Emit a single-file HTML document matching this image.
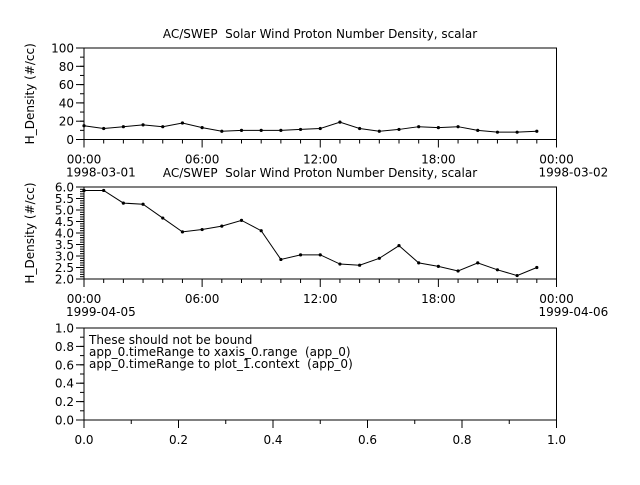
<!DOCTYPE html>
<html><head><meta charset="utf-8"><style>
html,body{margin:0;padding:0;background:#fff;}
svg text{font-family:"DejaVu Sans","Liberation Sans",sans-serif;font-size:12px;fill:#000;}
</style></head><body>
<svg id="s" width="640" height="480" xmlns="http://www.w3.org/2000/svg"></svg>
<script>
const s=document.getElementById('s');let h='';
const L=84,R=556.5,W=R-L;
function line(x1,y1,x2,y2,w){h+=`<line x1="${x1}" y1="${y1}" x2="${x2}" y2="${y2}" stroke="#000" stroke-width="${w||1}"/>`;}
function txt(x,y,t,a){h+=`<text x="${x}" y="${y}" text-anchor="${a||'start'}">${t}</text>`;}
function panel(T,B,ymin,ymax,major,minor,fmt,ylab,time,dates,data,title){
  h+=`<rect x="${L}" y="${T}" width="${W}" height="${B-T}" fill="none" stroke="#000" stroke-width="1"/>`;
  const Y=v=>B-(v-ymin)/(ymax-ymin)*(B-T);
  for(let v=ymin;v<=ymax+1e-9;v+=minor){line(L-4,Y(v),L,Y(v));}
  for(let v=ymin;v<=ymax+1e-9;v+=major){line(L-8,Y(v),L,Y(v));txt(L-10,Y(v)+4.5,fmt(v),'end');}
  h+=`<text transform="translate(${L-50},${(T+B)/2}) rotate(-90)" text-anchor="middle">${ylab}</text>`;
  if(time){
    for(let i=0;i<=24;i++){const x=L+i*W/24;line(x,B,x,B+(i%6?4:8));}
    ['00:00','06:00','12:00','18:00','00:00'].forEach((t,i)=>txt(L+i*W/4,B+24,t,'middle'));
    txt(L-18,B+37,dates[0]);txt(R-18,B+37,dates[1]);
  } else {
    for(let i=0;i<=10;i++){const x=L+i*W/10;line(x,B,x,B+(i%2?4:8));}
    for(let i=0;i<=5;i++)txt(L+i*W/5,B+24,(i*0.2).toFixed(1),'middle');
  }
  if(title)txt(320,T-10,title,'middle');
  if(data){
    let p=data.map((v,i)=>[L+i*W/24,Y(v)]);
    h+=`<polyline points="${p.map(q=>q.join(',')).join(' ')}" fill="none" stroke="#000" stroke-width="1"/>`;
    p.forEach(q=>h+=`<circle cx="${q[0]}" cy="${q[1]}" r="1.6" fill="#000"/>`);
  }
}
const t='AC/SWEP&#160;&#160;Solar Wind Proton Number Density, scalar';
panel(48,139.5,0,100,20,10,v=>v.toFixed(0),'H_Density (#/cc)',true,['1998-03-01','1998-03-02'],
 [15,12,14,16,14,18,13,9,10,10,10,11,12,19,12,9,11,14,13,14,10,8,8,9],t);
panel(187,279,2,6,0.5,0.1,v=>v.toFixed(1),'H_Density (#/cc)',true,['1999-04-05','1999-04-06'],
 [5.85,5.85,5.3,5.25,4.65,4.05,4.15,4.3,4.55,4.1,2.85,3.05,3.05,2.65,2.6,2.9,3.45,2.7,2.55,2.35,2.7,2.4,2.15,2.5],t);
panel(328,420,0,1,0.2,0.1,v=>v.toFixed(1),'',false,null,null,null);
txt(89,344,'These should not be bound');
txt(89,356,'app_0.timeRange to xaxis_0.range&#160;&#160;(app_0)');
txt(89,368,'app_0.timeRange to plot_1.context&#160;&#160;(app_0)');
s.innerHTML=h;
</script>
</body></html>
